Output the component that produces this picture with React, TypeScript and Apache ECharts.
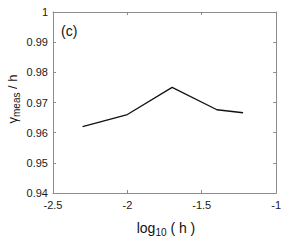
import React, { useEffect, useRef } from "react";
import * as echarts from "echarts";

const xValues = [-2.301, -2.0, -1.699, -1.398, -1.222];
const yValues = [0.962, 0.966, 0.975, 0.9676, 0.9666];
const xTicks = { min: -2.5, max: -1, interval: 0.5 };
const yTicks = { min: 0.94, max: 1, interval: 0.01 };

const FONT = "Liberation Sans";
const AXIS_COLOR = "#8c8c8c";

export default function App() {
  const ref = useRef<HTMLDivElement>(null);
  useEffect(() => {
    document.body.style.margin = "0";
    const chart = echarts.init(ref.current!, undefined, { renderer: "svg" });
    const axisLine = { show: true, lineStyle: { color: AXIS_COLOR, width: 1 } };
    const axisTick = { show: true, inside: true, length: 3, lineStyle: { color: AXIS_COLOR } };
    const labelStyle = { color: "#1a1a1a", fontFamily: FONT, fontSize: 11 };
    chart.setOption({
      animation: false,
      grid: { left: 53, top: 12, width: 225, height: 181 },
      xAxis: [
        {
          type: "value",
          ...xTicks,
          axisLine,
          axisTick,
          splitLine: { show: false },
          axisLabel: { ...labelStyle, margin: 6, formatter: (v: number) => String(+v.toFixed(2)) },
        },
        {
          type: "value",
          position: "top",
          ...xTicks,
          axisLine,
          axisTick,
          splitLine: { show: false },
          axisLabel: { show: false },
        },
      ],
      yAxis: [
        {
          type: "value",
          ...yTicks,
          axisLine,
          axisTick,
          splitLine: { show: false },
          axisLabel: { ...labelStyle, margin: 5, formatter: (v: number) => String(+v.toFixed(2)) },
        },
        {
          type: "value",
          position: "right",
          ...yTicks,
          axisLine,
          axisTick,
          splitLine: { show: false },
          axisLabel: { show: false },
        },
      ],
      series: [
        {
          type: "line",
          data: xValues.map((x, i) => [x, yValues[i]]),
          symbol: "none",
          lineStyle: { color: "#111", width: 1.3 },
        },
      ],
      graphic: [
        {
          type: "text",
          x: 61,
          y: 31,
          style: {
            text: "(c)",
            fontFamily: FONT,
            fontSize: 14,
            fill: "#111",
            textVerticalAlign: "middle",
          },
        },
        {
          type: "text",
          x: 166,
          y: 228,
          style: {
            text: "{n|log}{s|10}{n| ( h )}",
            textAlign: "center",
            textVerticalAlign: "middle",
            rich: {
              n: { fontFamily: FONT, fontSize: 14, fill: "#111", color: "#111" },
              s: { fontFamily: FONT, fontSize: 10, fill: "#111", color: "#111", padding: [8, 0, 0, 0] },
            },
          },
        },
        {
          type: "text",
          x: 12,
          y: 99,
          rotation: Math.PI / 2,
          style: {
            text: "{n|γ}{s|meas}{n| / h}",
            textAlign: "center",
            textVerticalAlign: "middle",
            rich: {
              n: { fontFamily: FONT, fontSize: 13, fill: "#111", color: "#111" },
              s: { fontFamily: FONT, fontSize: 10, fill: "#111", color: "#111", padding: [8, 0, 0, 0] },
            },
          },
        },
      ],
    });
    return () => chart.dispose();
  }, []);
  return <div ref={ref} style={{ width: 284, height: 240 }} />;
}
